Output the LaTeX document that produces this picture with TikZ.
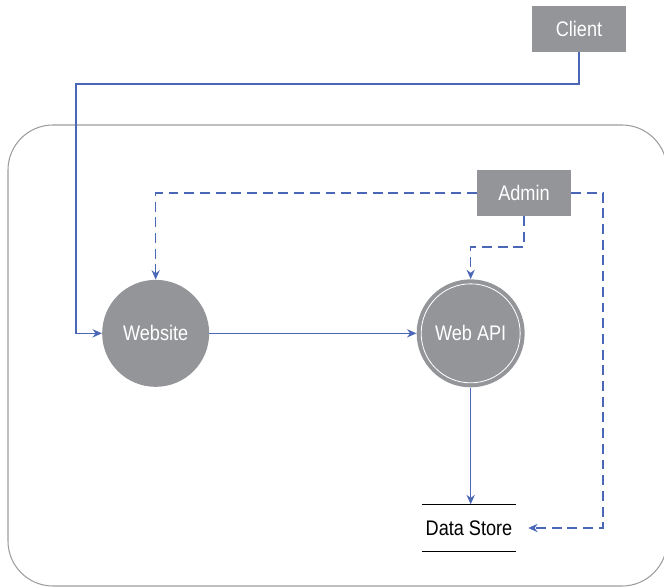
\documentclass[tikz,border=0pt]{standalone}
\usepackage{fontspec}
\setmainfont{Liberation Sans}[FakeStretch=0.86]
\usepackage{xcolor}
\usepackage{tikz}
\usetikzlibrary{arrows.meta,positioning,backgrounds}
\definecolor{boxgray}{HTML}{939598}
\definecolor{framegray}{HTML}{9D9D9D}
\definecolor{flowblue}{HTML}{4A66B6}
\tikzset{
  actorbox/.style={rectangle,fill=boxgray,text=white,minimum width=2.82cm,minimum height=1.38cm,inner sep=1pt,font=\fontsize{18}{21}\selectfont},
  procnode/.style={circle,fill=boxgray,text=white,minimum size=3.21cm,inner sep=1pt,font=\fontsize{18}{21}\selectfont},
  storenode/.style={rectangle,minimum width=2.82cm,minimum height=1.41cm,inner sep=1pt,font=\fontsize{18}{21}\selectfont},
  storeline/.style={black,line width=1.1pt},
  frameline/.style={framegray,line width=0.9pt,rounded corners=1.35cm},
  ringline/.style={white,line width=0.7pt},
  flow/.style={->,>={Stealth[length=8pt,width=7pt]},flowblue,line width=1.2pt},
  ctrl/.style={flow,dash pattern=on 8.5pt off 4.9pt},
}
\begin{document}
\begin{tikzpicture}
  \useasboundingbox (0,0) rectangle (19.92,-17.61);
  \clip (0,0) rectangle (19.92,-17.61);
  \draw[frameline] (0.24,-3.75) rectangle (20.01,-17.58);
  \node[actorbox] (nClient) at (17.37,-0.87) {Client};
  \node[actorbox] (nAdmin) at (15.72,-5.79) {Admin};
  \node[procnode] (nSite) at (4.67,-10.00) {Website};
  \node[procnode,minimum size=3.24cm] (nApi) at (14.12,-10.00) {Web API};
  \draw[ringline] (nApi.center) circle[radius=1.485cm];
  \node[storenode] (nStore) at (14.07,-15.84) {Data Store};
  \draw[storeline] (nStore.north west) -- (nStore.north east);
  \draw[storeline] (nStore.south west) -- (nStore.south east);
  \draw[flow] (nClient.south) |- (2.28,-2.52) |- (nSite.west);
  \draw[flow] (nSite) -- (nApi);
  \draw[flow] (nApi.south) -- (nApi.south |- nStore.north);
  \draw[ctrl] (nAdmin.west) -| (nSite.north);
  \draw[ctrl] (nAdmin.south) |- (14.12,-7.41) -- (nApi.north);
  \draw[ctrl] (nAdmin.east) -| (18.09,-15.84) -- ([xshift=0.36cm]nStore.east);
\end{tikzpicture}
\end{document}
